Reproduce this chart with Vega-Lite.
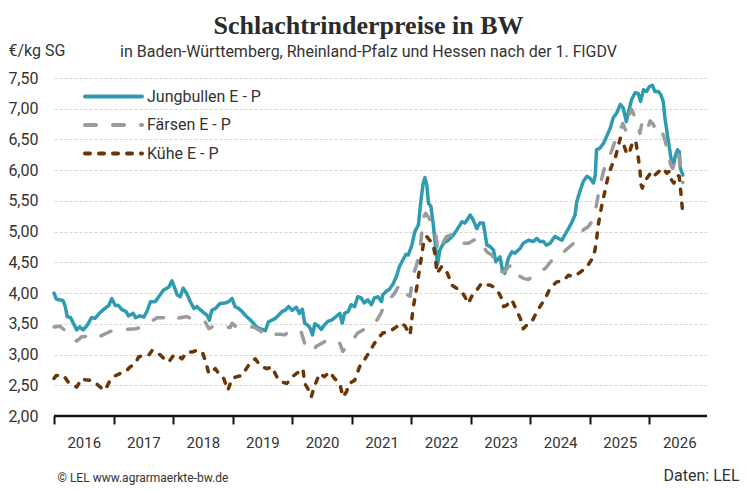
{
  "$schema": "https://vega.github.io/schema/vega-lite/v6.json",
  "width": 653,
  "height": 338,
  "autosize": {"type": "none"},
  "padding": {"left": 54, "top": 78, "right": 43, "bottom": 75},
  "background": "white",
  "config": {"view": {"stroke": null}},
  "title": {
    "text": "Schlachtrinderpreise in BW",
    "subtitle": "in Baden-Württemberg, Rheinland-Pfalz und Hessen nach der 1. FlGDV",
    "anchor": "middle",
    "frame": "group",
    "dx": -12,
    "dy": 22,
    "font": "Liberation Serif",
    "fontSize": 26,
    "fontWeight": "bold",
    "color": "#2b2b2b",
    "subtitleFont": "Roboto",
    "subtitleFontSize": 16,
    "subtitleColor": "#333333",
    "subtitlePadding": 5
  },
  "datasets": {
    "preise": [
      {"Rind": "Jungbullen E - P", "Jahr": 2016.00, "Preis": 4.00},
      {"Rind": "Jungbullen E - P", "Jahr": 2016.04, "Preis": 3.90},
      {"Rind": "Jungbullen E - P", "Jahr": 2016.15, "Preis": 3.88},
      {"Rind": "Jungbullen E - P", "Jahr": 2016.19, "Preis": 3.78},
      {"Rind": "Jungbullen E - P", "Jahr": 2016.22, "Preis": 3.62},
      {"Rind": "Jungbullen E - P", "Jahr": 2016.28, "Preis": 3.60},
      {"Rind": "Jungbullen E - P", "Jahr": 2016.33, "Preis": 3.50},
      {"Rind": "Jungbullen E - P", "Jahr": 2016.38, "Preis": 3.40},
      {"Rind": "Jungbullen E - P", "Jahr": 2016.43, "Preis": 3.45},
      {"Rind": "Jungbullen E - P", "Jahr": 2016.49, "Preis": 3.40},
      {"Rind": "Jungbullen E - P", "Jahr": 2016.56, "Preis": 3.48},
      {"Rind": "Jungbullen E - P", "Jahr": 2016.63, "Preis": 3.60},
      {"Rind": "Jungbullen E - P", "Jahr": 2016.69, "Preis": 3.59},
      {"Rind": "Jungbullen E - P", "Jahr": 2016.76, "Preis": 3.67},
      {"Rind": "Jungbullen E - P", "Jahr": 2016.83, "Preis": 3.73},
      {"Rind": "Jungbullen E - P", "Jahr": 2016.92, "Preis": 3.80},
      {"Rind": "Jungbullen E - P", "Jahr": 2016.97, "Preis": 3.91},
      {"Rind": "Jungbullen E - P", "Jahr": 2017.03, "Preis": 3.80},
      {"Rind": "Jungbullen E - P", "Jahr": 2017.08, "Preis": 3.80},
      {"Rind": "Jungbullen E - P", "Jahr": 2017.14, "Preis": 3.73},
      {"Rind": "Jungbullen E - P", "Jahr": 2017.21, "Preis": 3.70},
      {"Rind": "Jungbullen E - P", "Jahr": 2017.25, "Preis": 3.63},
      {"Rind": "Jungbullen E - P", "Jahr": 2017.33, "Preis": 3.67},
      {"Rind": "Jungbullen E - P", "Jahr": 2017.37, "Preis": 3.60},
      {"Rind": "Jungbullen E - P", "Jahr": 2017.44, "Preis": 3.63},
      {"Rind": "Jungbullen E - P", "Jahr": 2017.51, "Preis": 3.61},
      {"Rind": "Jungbullen E - P", "Jahr": 2017.56, "Preis": 3.70},
      {"Rind": "Jungbullen E - P", "Jahr": 2017.62, "Preis": 3.86},
      {"Rind": "Jungbullen E - P", "Jahr": 2017.70, "Preis": 3.86},
      {"Rind": "Jungbullen E - P", "Jahr": 2017.78, "Preis": 3.97},
      {"Rind": "Jungbullen E - P", "Jahr": 2017.84, "Preis": 4.05},
      {"Rind": "Jungbullen E - P", "Jahr": 2017.93, "Preis": 4.10},
      {"Rind": "Jungbullen E - P", "Jahr": 2017.98, "Preis": 4.20},
      {"Rind": "Jungbullen E - P", "Jahr": 2018.04, "Preis": 4.05},
      {"Rind": "Jungbullen E - P", "Jahr": 2018.07, "Preis": 3.97},
      {"Rind": "Jungbullen E - P", "Jahr": 2018.12, "Preis": 3.94},
      {"Rind": "Jungbullen E - P", "Jahr": 2018.17, "Preis": 4.08},
      {"Rind": "Jungbullen E - P", "Jahr": 2018.23, "Preis": 3.99},
      {"Rind": "Jungbullen E - P", "Jahr": 2018.29, "Preis": 3.86},
      {"Rind": "Jungbullen E - P", "Jahr": 2018.35, "Preis": 3.75},
      {"Rind": "Jungbullen E - P", "Jahr": 2018.40, "Preis": 3.78},
      {"Rind": "Jungbullen E - P", "Jahr": 2018.49, "Preis": 3.70},
      {"Rind": "Jungbullen E - P", "Jahr": 2018.57, "Preis": 3.64},
      {"Rind": "Jungbullen E - P", "Jahr": 2018.61, "Preis": 3.56},
      {"Rind": "Jungbullen E - P", "Jahr": 2018.65, "Preis": 3.72},
      {"Rind": "Jungbullen E - P", "Jahr": 2018.71, "Preis": 3.75},
      {"Rind": "Jungbullen E - P", "Jahr": 2018.79, "Preis": 3.83},
      {"Rind": "Jungbullen E - P", "Jahr": 2018.88, "Preis": 3.84},
      {"Rind": "Jungbullen E - P", "Jahr": 2018.93, "Preis": 3.86},
      {"Rind": "Jungbullen E - P", "Jahr": 2018.99, "Preis": 3.91},
      {"Rind": "Jungbullen E - P", "Jahr": 2019.04, "Preis": 3.78},
      {"Rind": "Jungbullen E - P", "Jahr": 2019.10, "Preis": 3.75},
      {"Rind": "Jungbullen E - P", "Jahr": 2019.16, "Preis": 3.70},
      {"Rind": "Jungbullen E - P", "Jahr": 2019.21, "Preis": 3.64},
      {"Rind": "Jungbullen E - P", "Jahr": 2019.30, "Preis": 3.56},
      {"Rind": "Jungbullen E - P", "Jahr": 2019.35, "Preis": 3.51},
      {"Rind": "Jungbullen E - P", "Jahr": 2019.41, "Preis": 3.44},
      {"Rind": "Jungbullen E - P", "Jahr": 2019.49, "Preis": 3.41},
      {"Rind": "Jungbullen E - P", "Jahr": 2019.55, "Preis": 3.39},
      {"Rind": "Jungbullen E - P", "Jahr": 2019.60, "Preis": 3.53},
      {"Rind": "Jungbullen E - P", "Jahr": 2019.66, "Preis": 3.56},
      {"Rind": "Jungbullen E - P", "Jahr": 2019.72, "Preis": 3.59},
      {"Rind": "Jungbullen E - P", "Jahr": 2019.77, "Preis": 3.64},
      {"Rind": "Jungbullen E - P", "Jahr": 2019.83, "Preis": 3.70},
      {"Rind": "Jungbullen E - P", "Jahr": 2019.88, "Preis": 3.72},
      {"Rind": "Jungbullen E - P", "Jahr": 2019.94, "Preis": 3.78},
      {"Rind": "Jungbullen E - P", "Jahr": 2020.00, "Preis": 3.72},
      {"Rind": "Jungbullen E - P", "Jahr": 2020.07, "Preis": 3.77},
      {"Rind": "Jungbullen E - P", "Jahr": 2020.12, "Preis": 3.67},
      {"Rind": "Jungbullen E - P", "Jahr": 2020.17, "Preis": 3.74},
      {"Rind": "Jungbullen E - P", "Jahr": 2020.21, "Preis": 3.51},
      {"Rind": "Jungbullen E - P", "Jahr": 2020.26, "Preis": 3.48},
      {"Rind": "Jungbullen E - P", "Jahr": 2020.30, "Preis": 3.43},
      {"Rind": "Jungbullen E - P", "Jahr": 2020.34, "Preis": 3.32},
      {"Rind": "Jungbullen E - P", "Jahr": 2020.38, "Preis": 3.50},
      {"Rind": "Jungbullen E - P", "Jahr": 2020.43, "Preis": 3.47},
      {"Rind": "Jungbullen E - P", "Jahr": 2020.49, "Preis": 3.41},
      {"Rind": "Jungbullen E - P", "Jahr": 2020.54, "Preis": 3.48},
      {"Rind": "Jungbullen E - P", "Jahr": 2020.60, "Preis": 3.54},
      {"Rind": "Jungbullen E - P", "Jahr": 2020.66, "Preis": 3.56},
      {"Rind": "Jungbullen E - P", "Jahr": 2020.74, "Preis": 3.62},
      {"Rind": "Jungbullen E - P", "Jahr": 2020.80, "Preis": 3.67},
      {"Rind": "Jungbullen E - P", "Jahr": 2020.84, "Preis": 3.51},
      {"Rind": "Jungbullen E - P", "Jahr": 2020.88, "Preis": 3.67},
      {"Rind": "Jungbullen E - P", "Jahr": 2020.94, "Preis": 3.70},
      {"Rind": "Jungbullen E - P", "Jahr": 2020.99, "Preis": 3.81},
      {"Rind": "Jungbullen E - P", "Jahr": 2021.05, "Preis": 3.78},
      {"Rind": "Jungbullen E - P", "Jahr": 2021.10, "Preis": 3.94},
      {"Rind": "Jungbullen E - P", "Jahr": 2021.16, "Preis": 3.92},
      {"Rind": "Jungbullen E - P", "Jahr": 2021.21, "Preis": 3.84},
      {"Rind": "Jungbullen E - P", "Jahr": 2021.27, "Preis": 3.89},
      {"Rind": "Jungbullen E - P", "Jahr": 2021.33, "Preis": 3.81},
      {"Rind": "Jungbullen E - P", "Jahr": 2021.38, "Preis": 3.92},
      {"Rind": "Jungbullen E - P", "Jahr": 2021.44, "Preis": 3.94},
      {"Rind": "Jungbullen E - P", "Jahr": 2021.50, "Preis": 3.86},
      {"Rind": "Jungbullen E - P", "Jahr": 2021.52, "Preis": 3.97},
      {"Rind": "Jungbullen E - P", "Jahr": 2021.58, "Preis": 4.03},
      {"Rind": "Jungbullen E - P", "Jahr": 2021.63, "Preis": 4.06},
      {"Rind": "Jungbullen E - P", "Jahr": 2021.69, "Preis": 4.14},
      {"Rind": "Jungbullen E - P", "Jahr": 2021.75, "Preis": 4.27},
      {"Rind": "Jungbullen E - P", "Jahr": 2021.80, "Preis": 4.43},
      {"Rind": "Jungbullen E - P", "Jahr": 2021.86, "Preis": 4.54},
      {"Rind": "Jungbullen E - P", "Jahr": 2021.91, "Preis": 4.63},
      {"Rind": "Jungbullen E - P", "Jahr": 2021.95, "Preis": 4.62},
      {"Rind": "Jungbullen E - P", "Jahr": 2022.01, "Preis": 4.78},
      {"Rind": "Jungbullen E - P", "Jahr": 2022.06, "Preis": 5.00},
      {"Rind": "Jungbullen E - P", "Jahr": 2022.12, "Preis": 5.11},
      {"Rind": "Jungbullen E - P", "Jahr": 2022.16, "Preis": 5.49},
      {"Rind": "Jungbullen E - P", "Jahr": 2022.20, "Preis": 5.79},
      {"Rind": "Jungbullen E - P", "Jahr": 2022.23, "Preis": 5.88},
      {"Rind": "Jungbullen E - P", "Jahr": 2022.26, "Preis": 5.76},
      {"Rind": "Jungbullen E - P", "Jahr": 2022.29, "Preis": 5.46},
      {"Rind": "Jungbullen E - P", "Jahr": 2022.33, "Preis": 5.41},
      {"Rind": "Jungbullen E - P", "Jahr": 2022.37, "Preis": 5.11},
      {"Rind": "Jungbullen E - P", "Jahr": 2022.41, "Preis": 4.73},
      {"Rind": "Jungbullen E - P", "Jahr": 2022.44, "Preis": 4.46},
      {"Rind": "Jungbullen E - P", "Jahr": 2022.48, "Preis": 4.70},
      {"Rind": "Jungbullen E - P", "Jahr": 2022.54, "Preis": 4.81},
      {"Rind": "Jungbullen E - P", "Jahr": 2022.62, "Preis": 4.86},
      {"Rind": "Jungbullen E - P", "Jahr": 2022.71, "Preis": 4.95},
      {"Rind": "Jungbullen E - P", "Jahr": 2022.78, "Preis": 5.05},
      {"Rind": "Jungbullen E - P", "Jahr": 2022.85, "Preis": 5.16},
      {"Rind": "Jungbullen E - P", "Jahr": 2022.90, "Preis": 5.14},
      {"Rind": "Jungbullen E - P", "Jahr": 2022.99, "Preis": 5.27},
      {"Rind": "Jungbullen E - P", "Jahr": 2023.04, "Preis": 5.19},
      {"Rind": "Jungbullen E - P", "Jahr": 2023.10, "Preis": 5.05},
      {"Rind": "Jungbullen E - P", "Jahr": 2023.15, "Preis": 5.14},
      {"Rind": "Jungbullen E - P", "Jahr": 2023.21, "Preis": 5.14},
      {"Rind": "Jungbullen E - P", "Jahr": 2023.27, "Preis": 4.78},
      {"Rind": "Jungbullen E - P", "Jahr": 2023.32, "Preis": 4.76},
      {"Rind": "Jungbullen E - P", "Jahr": 2023.38, "Preis": 4.70},
      {"Rind": "Jungbullen E - P", "Jahr": 2023.42, "Preis": 4.51},
      {"Rind": "Jungbullen E - P", "Jahr": 2023.49, "Preis": 4.59},
      {"Rind": "Jungbullen E - P", "Jahr": 2023.53, "Preis": 4.38},
      {"Rind": "Jungbullen E - P", "Jahr": 2023.57, "Preis": 4.32},
      {"Rind": "Jungbullen E - P", "Jahr": 2023.63, "Preis": 4.57},
      {"Rind": "Jungbullen E - P", "Jahr": 2023.69, "Preis": 4.67},
      {"Rind": "Jungbullen E - P", "Jahr": 2023.74, "Preis": 4.65},
      {"Rind": "Jungbullen E - P", "Jahr": 2023.83, "Preis": 4.73},
      {"Rind": "Jungbullen E - P", "Jahr": 2023.88, "Preis": 4.81},
      {"Rind": "Jungbullen E - P", "Jahr": 2023.97, "Preis": 4.86},
      {"Rind": "Jungbullen E - P", "Jahr": 2024.05, "Preis": 4.84},
      {"Rind": "Jungbullen E - P", "Jahr": 2024.11, "Preis": 4.89},
      {"Rind": "Jungbullen E - P", "Jahr": 2024.16, "Preis": 4.84},
      {"Rind": "Jungbullen E - P", "Jahr": 2024.22, "Preis": 4.84},
      {"Rind": "Jungbullen E - P", "Jahr": 2024.27, "Preis": 4.78},
      {"Rind": "Jungbullen E - P", "Jahr": 2024.33, "Preis": 4.81},
      {"Rind": "Jungbullen E - P", "Jahr": 2024.41, "Preis": 4.92},
      {"Rind": "Jungbullen E - P", "Jahr": 2024.47, "Preis": 4.89},
      {"Rind": "Jungbullen E - P", "Jahr": 2024.53, "Preis": 4.86},
      {"Rind": "Jungbullen E - P", "Jahr": 2024.58, "Preis": 4.95},
      {"Rind": "Jungbullen E - P", "Jahr": 2024.64, "Preis": 5.05},
      {"Rind": "Jungbullen E - P", "Jahr": 2024.69, "Preis": 5.14},
      {"Rind": "Jungbullen E - P", "Jahr": 2024.75, "Preis": 5.27},
      {"Rind": "Jungbullen E - P", "Jahr": 2024.78, "Preis": 5.49},
      {"Rind": "Jungbullen E - P", "Jahr": 2024.83, "Preis": 5.65},
      {"Rind": "Jungbullen E - P", "Jahr": 2024.89, "Preis": 5.82},
      {"Rind": "Jungbullen E - P", "Jahr": 2024.95, "Preis": 5.90},
      {"Rind": "Jungbullen E - P", "Jahr": 2025.00, "Preis": 5.87},
      {"Rind": "Jungbullen E - P", "Jahr": 2025.06, "Preis": 5.79},
      {"Rind": "Jungbullen E - P", "Jahr": 2025.09, "Preis": 5.92},
      {"Rind": "Jungbullen E - P", "Jahr": 2025.11, "Preis": 6.33},
      {"Rind": "Jungbullen E - P", "Jahr": 2025.17, "Preis": 6.36},
      {"Rind": "Jungbullen E - P", "Jahr": 2025.23, "Preis": 6.44},
      {"Rind": "Jungbullen E - P", "Jahr": 2025.28, "Preis": 6.55},
      {"Rind": "Jungbullen E - P", "Jahr": 2025.34, "Preis": 6.68},
      {"Rind": "Jungbullen E - P", "Jahr": 2025.39, "Preis": 6.85},
      {"Rind": "Jungbullen E - P", "Jahr": 2025.45, "Preis": 6.93},
      {"Rind": "Jungbullen E - P", "Jahr": 2025.51, "Preis": 7.07},
      {"Rind": "Jungbullen E - P", "Jahr": 2025.56, "Preis": 7.01},
      {"Rind": "Jungbullen E - P", "Jahr": 2025.61, "Preis": 6.79},
      {"Rind": "Jungbullen E - P", "Jahr": 2025.65, "Preis": 6.96},
      {"Rind": "Jungbullen E - P", "Jahr": 2025.70, "Preis": 7.15},
      {"Rind": "Jungbullen E - P", "Jahr": 2025.76, "Preis": 7.26},
      {"Rind": "Jungbullen E - P", "Jahr": 2025.81, "Preis": 7.25},
      {"Rind": "Jungbullen E - P", "Jahr": 2025.85, "Preis": 7.12},
      {"Rind": "Jungbullen E - P", "Jahr": 2025.90, "Preis": 7.31},
      {"Rind": "Jungbullen E - P", "Jahr": 2025.95, "Preis": 7.28},
      {"Rind": "Jungbullen E - P", "Jahr": 2026.00, "Preis": 7.36},
      {"Rind": "Jungbullen E - P", "Jahr": 2026.05, "Preis": 7.38},
      {"Rind": "Jungbullen E - P", "Jahr": 2026.09, "Preis": 7.28},
      {"Rind": "Jungbullen E - P", "Jahr": 2026.15, "Preis": 7.28},
      {"Rind": "Jungbullen E - P", "Jahr": 2026.19, "Preis": 7.23},
      {"Rind": "Jungbullen E - P", "Jahr": 2026.23, "Preis": 7.12},
      {"Rind": "Jungbullen E - P", "Jahr": 2026.26, "Preis": 6.85},
      {"Rind": "Jungbullen E - P", "Jahr": 2026.30, "Preis": 6.58},
      {"Rind": "Jungbullen E - P", "Jahr": 2026.34, "Preis": 6.33},
      {"Rind": "Jungbullen E - P", "Jahr": 2026.37, "Preis": 6.14},
      {"Rind": "Jungbullen E - P", "Jahr": 2026.40, "Preis": 6.06},
      {"Rind": "Jungbullen E - P", "Jahr": 2026.43, "Preis": 6.22},
      {"Rind": "Jungbullen E - P", "Jahr": 2026.47, "Preis": 6.33},
      {"Rind": "Jungbullen E - P", "Jahr": 2026.50, "Preis": 6.30},
      {"Rind": "Jungbullen E - P", "Jahr": 2026.52, "Preis": 6.03},
      {"Rind": "Jungbullen E - P", "Jahr": 2026.56, "Preis": 5.92},
      {"Rind": "Färsen E - P", "Jahr": 2016.00, "Preis": 3.45},
      {"Rind": "Färsen E - P", "Jahr": 2016.10, "Preis": 3.46},
      {"Rind": "Färsen E - P", "Jahr": 2016.21, "Preis": 3.37},
      {"Rind": "Färsen E - P", "Jahr": 2016.30, "Preis": 3.26},
      {"Rind": "Färsen E - P", "Jahr": 2016.38, "Preis": 3.22},
      {"Rind": "Färsen E - P", "Jahr": 2016.47, "Preis": 3.29},
      {"Rind": "Färsen E - P", "Jahr": 2016.58, "Preis": 3.30},
      {"Rind": "Färsen E - P", "Jahr": 2016.66, "Preis": 3.35},
      {"Rind": "Färsen E - P", "Jahr": 2016.78, "Preis": 3.30},
      {"Rind": "Färsen E - P", "Jahr": 2016.89, "Preis": 3.35},
      {"Rind": "Färsen E - P", "Jahr": 2017.00, "Preis": 3.40},
      {"Rind": "Färsen E - P", "Jahr": 2017.11, "Preis": 3.41},
      {"Rind": "Färsen E - P", "Jahr": 2017.22, "Preis": 3.41},
      {"Rind": "Färsen E - P", "Jahr": 2017.37, "Preis": 3.42},
      {"Rind": "Färsen E - P", "Jahr": 2017.45, "Preis": 3.44},
      {"Rind": "Färsen E - P", "Jahr": 2017.56, "Preis": 3.48},
      {"Rind": "Färsen E - P", "Jahr": 2017.62, "Preis": 3.53},
      {"Rind": "Färsen E - P", "Jahr": 2017.73, "Preis": 3.60},
      {"Rind": "Färsen E - P", "Jahr": 2017.84, "Preis": 3.60},
      {"Rind": "Färsen E - P", "Jahr": 2017.96, "Preis": 3.65},
      {"Rind": "Färsen E - P", "Jahr": 2018.07, "Preis": 3.59},
      {"Rind": "Färsen E - P", "Jahr": 2018.23, "Preis": 3.62},
      {"Rind": "Färsen E - P", "Jahr": 2018.35, "Preis": 3.56},
      {"Rind": "Färsen E - P", "Jahr": 2018.46, "Preis": 3.56},
      {"Rind": "Färsen E - P", "Jahr": 2018.54, "Preis": 3.53},
      {"Rind": "Färsen E - P", "Jahr": 2018.60, "Preis": 3.42},
      {"Rind": "Färsen E - P", "Jahr": 2018.71, "Preis": 3.48},
      {"Rind": "Färsen E - P", "Jahr": 2018.79, "Preis": 3.46},
      {"Rind": "Färsen E - P", "Jahr": 2018.96, "Preis": 3.44},
      {"Rind": "Färsen E - P", "Jahr": 2018.99, "Preis": 3.51},
      {"Rind": "Färsen E - P", "Jahr": 2019.07, "Preis": 3.44},
      {"Rind": "Färsen E - P", "Jahr": 2019.21, "Preis": 3.44},
      {"Rind": "Färsen E - P", "Jahr": 2019.35, "Preis": 3.45},
      {"Rind": "Färsen E - P", "Jahr": 2019.46, "Preis": 3.39},
      {"Rind": "Färsen E - P", "Jahr": 2019.58, "Preis": 3.29},
      {"Rind": "Färsen E - P", "Jahr": 2019.69, "Preis": 3.33},
      {"Rind": "Färsen E - P", "Jahr": 2019.80, "Preis": 3.33},
      {"Rind": "Färsen E - P", "Jahr": 2019.88, "Preis": 3.32},
      {"Rind": "Färsen E - P", "Jahr": 2019.97, "Preis": 3.40},
      {"Rind": "Färsen E - P", "Jahr": 2020.04, "Preis": 3.40},
      {"Rind": "Färsen E - P", "Jahr": 2020.15, "Preis": 3.37},
      {"Rind": "Färsen E - P", "Jahr": 2020.21, "Preis": 3.18},
      {"Rind": "Färsen E - P", "Jahr": 2020.29, "Preis": 3.13},
      {"Rind": "Färsen E - P", "Jahr": 2020.35, "Preis": 3.05},
      {"Rind": "Färsen E - P", "Jahr": 2020.40, "Preis": 3.13},
      {"Rind": "Färsen E - P", "Jahr": 2020.49, "Preis": 3.18},
      {"Rind": "Färsen E - P", "Jahr": 2020.60, "Preis": 3.24},
      {"Rind": "Färsen E - P", "Jahr": 2020.68, "Preis": 3.26},
      {"Rind": "Färsen E - P", "Jahr": 2020.80, "Preis": 3.18},
      {"Rind": "Färsen E - P", "Jahr": 2020.85, "Preis": 3.05},
      {"Rind": "Färsen E - P", "Jahr": 2020.91, "Preis": 3.13},
      {"Rind": "Färsen E - P", "Jahr": 2021.02, "Preis": 3.24},
      {"Rind": "Färsen E - P", "Jahr": 2021.10, "Preis": 3.35},
      {"Rind": "Färsen E - P", "Jahr": 2021.19, "Preis": 3.40},
      {"Rind": "Färsen E - P", "Jahr": 2021.30, "Preis": 3.45},
      {"Rind": "Färsen E - P", "Jahr": 2021.41, "Preis": 3.54},
      {"Rind": "Färsen E - P", "Jahr": 2021.49, "Preis": 3.67},
      {"Rind": "Färsen E - P", "Jahr": 2021.55, "Preis": 3.81},
      {"Rind": "Färsen E - P", "Jahr": 2021.63, "Preis": 3.89},
      {"Rind": "Färsen E - P", "Jahr": 2021.72, "Preis": 4.00},
      {"Rind": "Färsen E - P", "Jahr": 2021.80, "Preis": 4.14},
      {"Rind": "Färsen E - P", "Jahr": 2021.89, "Preis": 4.05},
      {"Rind": "Färsen E - P", "Jahr": 2021.94, "Preis": 3.97},
      {"Rind": "Färsen E - P", "Jahr": 2021.98, "Preis": 3.95},
      {"Rind": "Färsen E - P", "Jahr": 2022.03, "Preis": 4.29},
      {"Rind": "Färsen E - P", "Jahr": 2022.09, "Preis": 4.46},
      {"Rind": "Färsen E - P", "Jahr": 2022.15, "Preis": 4.73},
      {"Rind": "Färsen E - P", "Jahr": 2022.20, "Preis": 5.22},
      {"Rind": "Färsen E - P", "Jahr": 2022.24, "Preis": 5.30},
      {"Rind": "Färsen E - P", "Jahr": 2022.30, "Preis": 5.22},
      {"Rind": "Färsen E - P", "Jahr": 2022.37, "Preis": 5.08},
      {"Rind": "Färsen E - P", "Jahr": 2022.41, "Preis": 4.95},
      {"Rind": "Färsen E - P", "Jahr": 2022.45, "Preis": 4.67},
      {"Rind": "Färsen E - P", "Jahr": 2022.51, "Preis": 4.78},
      {"Rind": "Färsen E - P", "Jahr": 2022.59, "Preis": 4.92},
      {"Rind": "Färsen E - P", "Jahr": 2022.68, "Preis": 4.95},
      {"Rind": "Färsen E - P", "Jahr": 2022.79, "Preis": 4.92},
      {"Rind": "Färsen E - P", "Jahr": 2022.87, "Preis": 4.81},
      {"Rind": "Färsen E - P", "Jahr": 2022.96, "Preis": 4.81},
      {"Rind": "Färsen E - P", "Jahr": 2023.01, "Preis": 4.84},
      {"Rind": "Färsen E - P", "Jahr": 2023.10, "Preis": 4.89},
      {"Rind": "Färsen E - P", "Jahr": 2023.18, "Preis": 4.81},
      {"Rind": "Färsen E - P", "Jahr": 2023.27, "Preis": 4.67},
      {"Rind": "Färsen E - P", "Jahr": 2023.35, "Preis": 4.62},
      {"Rind": "Färsen E - P", "Jahr": 2023.43, "Preis": 4.51},
      {"Rind": "Färsen E - P", "Jahr": 2023.52, "Preis": 4.35},
      {"Rind": "Färsen E - P", "Jahr": 2023.57, "Preis": 4.35},
      {"Rind": "Färsen E - P", "Jahr": 2023.63, "Preis": 4.43},
      {"Rind": "Färsen E - P", "Jahr": 2023.71, "Preis": 4.46},
      {"Rind": "Färsen E - P", "Jahr": 2023.80, "Preis": 4.29},
      {"Rind": "Färsen E - P", "Jahr": 2023.88, "Preis": 4.24},
      {"Rind": "Färsen E - P", "Jahr": 2023.97, "Preis": 4.22},
      {"Rind": "Färsen E - P", "Jahr": 2024.05, "Preis": 4.29},
      {"Rind": "Färsen E - P", "Jahr": 2024.16, "Preis": 4.35},
      {"Rind": "Färsen E - P", "Jahr": 2024.25, "Preis": 4.40},
      {"Rind": "Färsen E - P", "Jahr": 2024.39, "Preis": 4.57},
      {"Rind": "Färsen E - P", "Jahr": 2024.50, "Preis": 4.62},
      {"Rind": "Färsen E - P", "Jahr": 2024.69, "Preis": 4.78},
      {"Rind": "Färsen E - P", "Jahr": 2024.78, "Preis": 4.86},
      {"Rind": "Färsen E - P", "Jahr": 2024.89, "Preis": 5.03},
      {"Rind": "Färsen E - P", "Jahr": 2024.97, "Preis": 5.08},
      {"Rind": "Färsen E - P", "Jahr": 2025.03, "Preis": 5.16},
      {"Rind": "Färsen E - P", "Jahr": 2025.09, "Preis": 5.33},
      {"Rind": "Färsen E - P", "Jahr": 2025.14, "Preis": 5.60},
      {"Rind": "Färsen E - P", "Jahr": 2025.20, "Preis": 5.87},
      {"Rind": "Färsen E - P", "Jahr": 2025.25, "Preis": 6.06},
      {"Rind": "Färsen E - P", "Jahr": 2025.31, "Preis": 6.17},
      {"Rind": "Färsen E - P", "Jahr": 2025.38, "Preis": 6.36},
      {"Rind": "Färsen E - P", "Jahr": 2025.43, "Preis": 6.49},
      {"Rind": "Färsen E - P", "Jahr": 2025.49, "Preis": 6.60},
      {"Rind": "Färsen E - P", "Jahr": 2025.55, "Preis": 6.76},
      {"Rind": "Färsen E - P", "Jahr": 2025.60, "Preis": 6.65},
      {"Rind": "Färsen E - P", "Jahr": 2025.66, "Preis": 6.90},
      {"Rind": "Färsen E - P", "Jahr": 2025.70, "Preis": 6.99},
      {"Rind": "Färsen E - P", "Jahr": 2025.76, "Preis": 6.85},
      {"Rind": "Färsen E - P", "Jahr": 2025.80, "Preis": 6.77},
      {"Rind": "Färsen E - P", "Jahr": 2025.84, "Preis": 6.60},
      {"Rind": "Färsen E - P", "Jahr": 2025.88, "Preis": 6.80},
      {"Rind": "Färsen E - P", "Jahr": 2025.93, "Preis": 6.77},
      {"Rind": "Färsen E - P", "Jahr": 2025.97, "Preis": 6.68},
      {"Rind": "Färsen E - P", "Jahr": 2026.01, "Preis": 6.80},
      {"Rind": "Färsen E - P", "Jahr": 2026.06, "Preis": 6.75},
      {"Rind": "Färsen E - P", "Jahr": 2026.11, "Preis": 6.65},
      {"Rind": "Färsen E - P", "Jahr": 2026.16, "Preis": 6.70},
      {"Rind": "Färsen E - P", "Jahr": 2026.21, "Preis": 6.62},
      {"Rind": "Färsen E - P", "Jahr": 2026.24, "Preis": 6.55},
      {"Rind": "Färsen E - P", "Jahr": 2026.27, "Preis": 6.45},
      {"Rind": "Färsen E - P", "Jahr": 2026.32, "Preis": 6.25},
      {"Rind": "Färsen E - P", "Jahr": 2026.35, "Preis": 6.10},
      {"Rind": "Färsen E - P", "Jahr": 2026.39, "Preis": 6.03},
      {"Rind": "Färsen E - P", "Jahr": 2026.43, "Preis": 6.15},
      {"Rind": "Färsen E - P", "Jahr": 2026.47, "Preis": 6.30},
      {"Rind": "Färsen E - P", "Jahr": 2026.50, "Preis": 6.20},
      {"Rind": "Färsen E - P", "Jahr": 2026.53, "Preis": 5.90},
      {"Rind": "Färsen E - P", "Jahr": 2026.56, "Preis": 5.80},
      {"Rind": "Kühe E - P", "Jahr": 2016.00, "Preis": 2.61},
      {"Rind": "Kühe E - P", "Jahr": 2016.04, "Preis": 2.66},
      {"Rind": "Kühe E - P", "Jahr": 2016.16, "Preis": 2.66},
      {"Rind": "Kühe E - P", "Jahr": 2016.24, "Preis": 2.55},
      {"Rind": "Kühe E - P", "Jahr": 2016.33, "Preis": 2.50},
      {"Rind": "Kühe E - P", "Jahr": 2016.38, "Preis": 2.47},
      {"Rind": "Kühe E - P", "Jahr": 2016.47, "Preis": 2.61},
      {"Rind": "Kühe E - P", "Jahr": 2016.52, "Preis": 2.59},
      {"Rind": "Kühe E - P", "Jahr": 2016.63, "Preis": 2.58},
      {"Rind": "Kühe E - P", "Jahr": 2016.72, "Preis": 2.52},
      {"Rind": "Kühe E - P", "Jahr": 2016.80, "Preis": 2.45},
      {"Rind": "Kühe E - P", "Jahr": 2016.86, "Preis": 2.42},
      {"Rind": "Kühe E - P", "Jahr": 2016.94, "Preis": 2.58},
      {"Rind": "Kühe E - P", "Jahr": 2017.00, "Preis": 2.64},
      {"Rind": "Kühe E - P", "Jahr": 2017.11, "Preis": 2.69},
      {"Rind": "Kühe E - P", "Jahr": 2017.20, "Preis": 2.72},
      {"Rind": "Kühe E - P", "Jahr": 2017.28, "Preis": 2.80},
      {"Rind": "Kühe E - P", "Jahr": 2017.37, "Preis": 2.86},
      {"Rind": "Kühe E - P", "Jahr": 2017.42, "Preis": 2.96},
      {"Rind": "Kühe E - P", "Jahr": 2017.51, "Preis": 2.99},
      {"Rind": "Kühe E - P", "Jahr": 2017.59, "Preis": 2.99},
      {"Rind": "Kühe E - P", "Jahr": 2017.65, "Preis": 3.07},
      {"Rind": "Kühe E - P", "Jahr": 2017.73, "Preis": 3.03},
      {"Rind": "Kühe E - P", "Jahr": 2017.79, "Preis": 2.99},
      {"Rind": "Kühe E - P", "Jahr": 2017.87, "Preis": 2.91},
      {"Rind": "Kühe E - P", "Jahr": 2017.93, "Preis": 2.88},
      {"Rind": "Kühe E - P", "Jahr": 2018.01, "Preis": 2.99},
      {"Rind": "Kühe E - P", "Jahr": 2018.07, "Preis": 2.99},
      {"Rind": "Kühe E - P", "Jahr": 2018.15, "Preis": 2.93},
      {"Rind": "Kühe E - P", "Jahr": 2018.23, "Preis": 3.04},
      {"Rind": "Kühe E - P", "Jahr": 2018.32, "Preis": 3.04},
      {"Rind": "Kühe E - P", "Jahr": 2018.40, "Preis": 3.07},
      {"Rind": "Kühe E - P", "Jahr": 2018.49, "Preis": 3.04},
      {"Rind": "Kühe E - P", "Jahr": 2018.54, "Preis": 2.91},
      {"Rind": "Kühe E - P", "Jahr": 2018.60, "Preis": 2.69},
      {"Rind": "Kühe E - P", "Jahr": 2018.65, "Preis": 2.72},
      {"Rind": "Kühe E - P", "Jahr": 2018.71, "Preis": 2.77},
      {"Rind": "Kühe E - P", "Jahr": 2018.79, "Preis": 2.66},
      {"Rind": "Kühe E - P", "Jahr": 2018.85, "Preis": 2.61},
      {"Rind": "Kühe E - P", "Jahr": 2018.92, "Preis": 2.42},
      {"Rind": "Kühe E - P", "Jahr": 2018.99, "Preis": 2.61},
      {"Rind": "Kühe E - P", "Jahr": 2019.07, "Preis": 2.64},
      {"Rind": "Kühe E - P", "Jahr": 2019.16, "Preis": 2.66},
      {"Rind": "Kühe E - P", "Jahr": 2019.21, "Preis": 2.74},
      {"Rind": "Kühe E - P", "Jahr": 2019.27, "Preis": 2.83},
      {"Rind": "Kühe E - P", "Jahr": 2019.34, "Preis": 2.90},
      {"Rind": "Kühe E - P", "Jahr": 2019.38, "Preis": 2.93},
      {"Rind": "Kühe E - P", "Jahr": 2019.44, "Preis": 2.85},
      {"Rind": "Kühe E - P", "Jahr": 2019.49, "Preis": 2.80},
      {"Rind": "Kühe E - P", "Jahr": 2019.58, "Preis": 2.77},
      {"Rind": "Kühe E - P", "Jahr": 2019.66, "Preis": 2.80},
      {"Rind": "Kühe E - P", "Jahr": 2019.74, "Preis": 2.64},
      {"Rind": "Kühe E - P", "Jahr": 2019.83, "Preis": 2.55},
      {"Rind": "Kühe E - P", "Jahr": 2019.91, "Preis": 2.53},
      {"Rind": "Kühe E - P", "Jahr": 2020.00, "Preis": 2.64},
      {"Rind": "Kühe E - P", "Jahr": 2020.07, "Preis": 2.69},
      {"Rind": "Kühe E - P", "Jahr": 2020.18, "Preis": 2.77},
      {"Rind": "Kühe E - P", "Jahr": 2020.21, "Preis": 2.53},
      {"Rind": "Kühe E - P", "Jahr": 2020.26, "Preis": 2.45},
      {"Rind": "Kühe E - P", "Jahr": 2020.32, "Preis": 2.31},
      {"Rind": "Kühe E - P", "Jahr": 2020.38, "Preis": 2.50},
      {"Rind": "Kühe E - P", "Jahr": 2020.46, "Preis": 2.69},
      {"Rind": "Kühe E - P", "Jahr": 2020.54, "Preis": 2.64},
      {"Rind": "Kühe E - P", "Jahr": 2020.63, "Preis": 2.72},
      {"Rind": "Kühe E - P", "Jahr": 2020.71, "Preis": 2.61},
      {"Rind": "Kühe E - P", "Jahr": 2020.80, "Preis": 2.53},
      {"Rind": "Kühe E - P", "Jahr": 2020.85, "Preis": 2.31},
      {"Rind": "Kühe E - P", "Jahr": 2020.91, "Preis": 2.39},
      {"Rind": "Kühe E - P", "Jahr": 2020.96, "Preis": 2.53},
      {"Rind": "Kühe E - P", "Jahr": 2021.05, "Preis": 2.58},
      {"Rind": "Kühe E - P", "Jahr": 2021.13, "Preis": 2.80},
      {"Rind": "Kühe E - P", "Jahr": 2021.21, "Preis": 2.91},
      {"Rind": "Kühe E - P", "Jahr": 2021.30, "Preis": 3.05},
      {"Rind": "Kühe E - P", "Jahr": 2021.38, "Preis": 3.18},
      {"Rind": "Kühe E - P", "Jahr": 2021.44, "Preis": 3.26},
      {"Rind": "Kühe E - P", "Jahr": 2021.52, "Preis": 3.35},
      {"Rind": "Kühe E - P", "Jahr": 2021.63, "Preis": 3.37},
      {"Rind": "Kühe E - P", "Jahr": 2021.75, "Preis": 3.45},
      {"Rind": "Kühe E - P", "Jahr": 2021.83, "Preis": 3.51},
      {"Rind": "Kühe E - P", "Jahr": 2021.89, "Preis": 3.47},
      {"Rind": "Kühe E - P", "Jahr": 2021.95, "Preis": 3.37},
      {"Rind": "Kühe E - P", "Jahr": 2021.98, "Preis": 3.32},
      {"Rind": "Kühe E - P", "Jahr": 2022.03, "Preis": 3.75},
      {"Rind": "Kühe E - P", "Jahr": 2022.09, "Preis": 4.08},
      {"Rind": "Kühe E - P", "Jahr": 2022.15, "Preis": 4.46},
      {"Rind": "Kühe E - P", "Jahr": 2022.20, "Preis": 4.78},
      {"Rind": "Kühe E - P", "Jahr": 2022.26, "Preis": 4.92},
      {"Rind": "Kühe E - P", "Jahr": 2022.31, "Preis": 4.86},
      {"Rind": "Kühe E - P", "Jahr": 2022.37, "Preis": 4.78},
      {"Rind": "Kühe E - P", "Jahr": 2022.40, "Preis": 4.62},
      {"Rind": "Kühe E - P", "Jahr": 2022.43, "Preis": 4.32},
      {"Rind": "Kühe E - P", "Jahr": 2022.45, "Preis": 4.35},
      {"Rind": "Kühe E - P", "Jahr": 2022.51, "Preis": 4.43},
      {"Rind": "Kühe E - P", "Jahr": 2022.57, "Preis": 4.40},
      {"Rind": "Kühe E - P", "Jahr": 2022.62, "Preis": 4.29},
      {"Rind": "Kühe E - P", "Jahr": 2022.68, "Preis": 4.13},
      {"Rind": "Kühe E - P", "Jahr": 2022.76, "Preis": 4.08},
      {"Rind": "Kühe E - P", "Jahr": 2022.85, "Preis": 4.02},
      {"Rind": "Kühe E - P", "Jahr": 2022.90, "Preis": 3.94},
      {"Rind": "Kühe E - P", "Jahr": 2022.96, "Preis": 3.83},
      {"Rind": "Kühe E - P", "Jahr": 2023.01, "Preis": 3.94},
      {"Rind": "Kühe E - P", "Jahr": 2023.10, "Preis": 4.05},
      {"Rind": "Kühe E - P", "Jahr": 2023.18, "Preis": 4.16},
      {"Rind": "Kühe E - P", "Jahr": 2023.24, "Preis": 4.13},
      {"Rind": "Kühe E - P", "Jahr": 2023.32, "Preis": 4.13},
      {"Rind": "Kühe E - P", "Jahr": 2023.38, "Preis": 4.10},
      {"Rind": "Kühe E - P", "Jahr": 2023.46, "Preis": 4.02},
      {"Rind": "Kühe E - P", "Jahr": 2023.52, "Preis": 3.91},
      {"Rind": "Kühe E - P", "Jahr": 2023.55, "Preis": 3.78},
      {"Rind": "Kühe E - P", "Jahr": 2023.60, "Preis": 3.80},
      {"Rind": "Kühe E - P", "Jahr": 2023.69, "Preis": 3.89},
      {"Rind": "Kühe E - P", "Jahr": 2023.74, "Preis": 3.78},
      {"Rind": "Kühe E - P", "Jahr": 2023.83, "Preis": 3.59},
      {"Rind": "Kühe E - P", "Jahr": 2023.88, "Preis": 3.42},
      {"Rind": "Kühe E - P", "Jahr": 2023.94, "Preis": 3.48},
      {"Rind": "Kühe E - P", "Jahr": 2024.02, "Preis": 3.53},
      {"Rind": "Kühe E - P", "Jahr": 2024.08, "Preis": 3.64},
      {"Rind": "Kühe E - P", "Jahr": 2024.16, "Preis": 3.78},
      {"Rind": "Kühe E - P", "Jahr": 2024.25, "Preis": 3.91},
      {"Rind": "Kühe E - P", "Jahr": 2024.33, "Preis": 4.08},
      {"Rind": "Kühe E - P", "Jahr": 2024.44, "Preis": 4.18},
      {"Rind": "Kühe E - P", "Jahr": 2024.55, "Preis": 4.20},
      {"Rind": "Kühe E - P", "Jahr": 2024.64, "Preis": 4.29},
      {"Rind": "Kühe E - P", "Jahr": 2024.72, "Preis": 4.27},
      {"Rind": "Kühe E - P", "Jahr": 2024.81, "Preis": 4.32},
      {"Rind": "Kühe E - P", "Jahr": 2024.89, "Preis": 4.38},
      {"Rind": "Kühe E - P", "Jahr": 2024.97, "Preis": 4.46},
      {"Rind": "Kühe E - P", "Jahr": 2025.06, "Preis": 4.59},
      {"Rind": "Kühe E - P", "Jahr": 2025.10, "Preis": 4.78},
      {"Rind": "Kühe E - P", "Jahr": 2025.14, "Preis": 5.11},
      {"Rind": "Kühe E - P", "Jahr": 2025.20, "Preis": 5.43},
      {"Rind": "Kühe E - P", "Jahr": 2025.25, "Preis": 5.65},
      {"Rind": "Kühe E - P", "Jahr": 2025.31, "Preis": 5.92},
      {"Rind": "Kühe E - P", "Jahr": 2025.38, "Preis": 6.11},
      {"Rind": "Kühe E - P", "Jahr": 2025.43, "Preis": 6.22},
      {"Rind": "Kühe E - P", "Jahr": 2025.51, "Preis": 6.52},
      {"Rind": "Kühe E - P", "Jahr": 2025.56, "Preis": 6.44},
      {"Rind": "Kühe E - P", "Jahr": 2025.62, "Preis": 6.26},
      {"Rind": "Kühe E - P", "Jahr": 2025.66, "Preis": 6.28},
      {"Rind": "Kühe E - P", "Jahr": 2025.72, "Preis": 6.47},
      {"Rind": "Kühe E - P", "Jahr": 2025.77, "Preis": 6.47},
      {"Rind": "Kühe E - P", "Jahr": 2025.81, "Preis": 6.22},
      {"Rind": "Kühe E - P", "Jahr": 2025.84, "Preis": 6.00},
      {"Rind": "Kühe E - P", "Jahr": 2025.86, "Preis": 5.76},
      {"Rind": "Kühe E - P", "Jahr": 2025.88, "Preis": 5.71},
      {"Rind": "Kühe E - P", "Jahr": 2025.92, "Preis": 5.82},
      {"Rind": "Kühe E - P", "Jahr": 2025.98, "Preis": 5.90},
      {"Rind": "Kühe E - P", "Jahr": 2026.04, "Preis": 5.98},
      {"Rind": "Kühe E - P", "Jahr": 2026.09, "Preis": 5.92},
      {"Rind": "Kühe E - P", "Jahr": 2026.16, "Preis": 5.98},
      {"Rind": "Kühe E - P", "Jahr": 2026.23, "Preis": 6.03},
      {"Rind": "Kühe E - P", "Jahr": 2026.29, "Preis": 5.95},
      {"Rind": "Kühe E - P", "Jahr": 2026.33, "Preis": 5.98},
      {"Rind": "Kühe E - P", "Jahr": 2026.37, "Preis": 5.84},
      {"Rind": "Kühe E - P", "Jahr": 2026.41, "Preis": 5.79},
      {"Rind": "Kühe E - P", "Jahr": 2026.47, "Preis": 5.92},
      {"Rind": "Kühe E - P", "Jahr": 2026.50, "Preis": 5.90},
      {"Rind": "Kühe E - P", "Jahr": 2026.52, "Preis": 5.71},
      {"Rind": "Kühe E - P", "Jahr": 2026.54, "Preis": 5.49},
      {"Rind": "Kühe E - P", "Jahr": 2026.56, "Preis": 5.30}
    ]
  },
  "resolve": {"axis": {"y": "independent"}},
  "layer": [
    {
      "data": {"name": "preise"},
      "mark": {"type": "line", "strokeWidth": 3.5, "strokeCap": "round", "strokeJoin": "round"},
      "encoding": {
        "x": {
          "field": "Jahr",
          "type": "quantitative",
          "scale": {"domain": [2016, 2026.966], "nice": false, "zero": false},
          "axis": {
            "values": [2016, 2017, 2018, 2019, 2020, 2021, 2022, 2023, 2024, 2025, 2026],
            "format": "d",
            "labelOffset": 29.8,
            "labelFlush": false,
            "labelOverlap": false,
            "labelFont": "Roboto",
            "labelFontSize": 15,
            "labelColor": "#333333",
            "labelPadding": 11,
            "domain": false,
            "grid": false,
            "tickColor": "#111111",
            "tickWidth": 2,
            "tickSize": 8,
            "title": "Daten: LEL",
            "titleFont": "Roboto",
            "titleFontSize": 16,
            "titleFontWeight": "normal",
            "titleColor": "#333333",
            "titleAlign": "right",
            "titleBaseline": "alphabetic",
            "titleX": 685,
            "titleY": 64
          }
        },
        "y": {
          "field": "Preis",
          "type": "quantitative",
          "scale": {"domain": [2, 7.5], "nice": false, "zero": false},
          "axis": {
            "values": [2, 2.5, 3, 3.5, 4, 4.5, 5, 5.5, 6, 6.5, 7, 7.5],
            "labelExpr": "replace(format(datum.value, '.2f'), '.', ',')",
            "labelFont": "Roboto",
            "labelFontSize": 16,
            "labelColor": "#333333",
            "labelPadding": 16,
            "domain": false,
            "ticks": false,
            "gridColor": "#d4d4d4",
            "gridDash": [3, 2],
            "gridWidth": 1,
            "title": "€/kg SG",
            "titleFont": "Roboto",
            "titleFontSize": 16,
            "titleFontWeight": "normal",
            "titleColor": "#333333",
            "titleAngle": 0,
            "titleAlign": "left",
            "titleBaseline": "alphabetic",
            "titleX": -46,
            "titleY": -23
          }
        },
        "color": {
          "field": "Rind",
          "type": "nominal",
          "sort": ["Jungbullen E - P", "Färsen E - P", "Kühe E - P"],
          "scale": {
            "domain": ["Jungbullen E - P", "Färsen E - P", "Kühe E - P"],
            "range": ["#2f9bb0", "#9b9b9b", "#6b3505"]
          },
          "legend": {
            "title": null,
            "orient": "none",
            "legendX": 48,
            "legendY": 7,
            "padding": 0,
            "symbolType": "M-3,0L3,0",
            "symbolSize": 361,
            "symbolStrokeWidth": 4,
            "labelFont": "Roboto",
            "labelFontSize": 16,
            "labelColor": "#333333",
            "labelOffset": 22,
            "rowPadding": 8.5,
            "encode": {"symbols": {"update": {"strokeCap": {"value": "round"}}}}
          }
        },
        "strokeDash": {
          "field": "Rind",
          "type": "nominal",
          "sort": ["Jungbullen E - P", "Färsen E - P", "Kühe E - P"],
          "scale": {
            "domain": ["Jungbullen E - P", "Färsen E - P", "Kühe E - P"],
            "range": [[1, 0], [11, 17], [5, 9]]
          }
        }
      }
    },
    {
      "data": {"values": [{}]},
      "mark": {"type": "rule", "color": "#111111", "strokeWidth": 2.5},
      "encoding": {
        "y": {
          "datum": 2,
          "type": "quantitative",
          "axis": {
            "orient": "right",
            "domain": false,
            "ticks": false,
            "labels": false,
            "grid": false,
            "title": "© LEL www.agrarmaerkte-bw.de",
            "titleFont": "Roboto",
            "titleFontSize": 12,
            "titleFontWeight": "normal",
            "titleColor": "#333333",
            "titleAngle": 0,
            "titleAlign": "left",
            "titleBaseline": "alphabetic",
            "titleX": -650,
            "titleY": 403
          }
        }
      }
    }
  ]
}
